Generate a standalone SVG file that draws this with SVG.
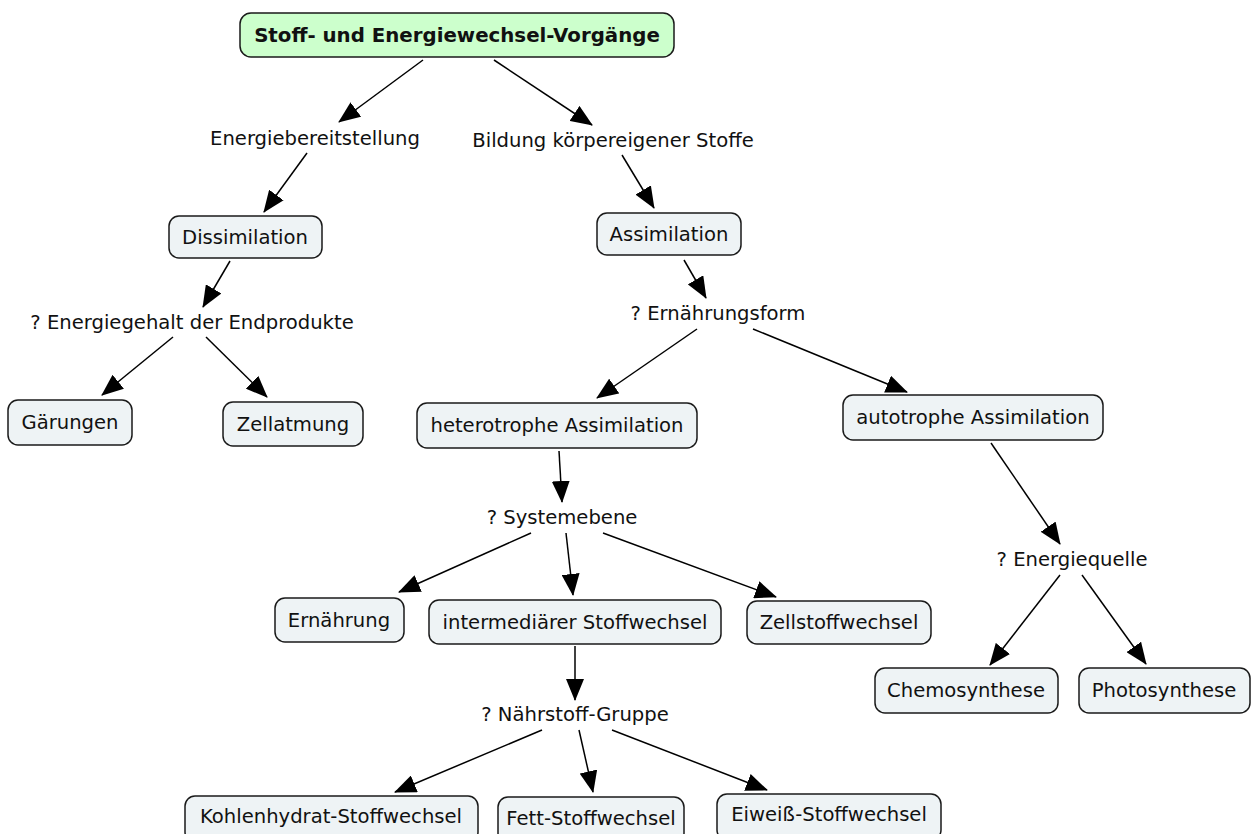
<svg xmlns="http://www.w3.org/2000/svg" width="1255" height="834" viewBox="0 0 1255 834">
<style>
.n rect{fill:#eef3f5;stroke:#1a1a1a;stroke-width:1.5}
.t rect{fill:#ccffcc;stroke:#1a1a1a;stroke-width:1.5}
text{font-family:"DejaVu Sans",Verdana,sans-serif;font-size:19.6px;fill:#111;text-anchor:middle}
.b{font-weight:bold;font-size:19.8px}
#connectors line{stroke:#000;stroke-width:1.5;marker-end:url(#ah)}
</style>
<defs>
<marker id="ah" viewBox="0 0 22 18" refX="21" refY="9" markerWidth="22" markerHeight="18" markerUnits="userSpaceOnUse" orient="auto">
<path d="M0,0 L22,9 L0,18 z" fill="#000"/>
</marker>
</defs>
<rect width="1255" height="834" fill="#fff"/>
<g id="connectors">
<line x1="423" y1="60" x2="339" y2="122"/>
<line x1="494" y1="60" x2="592" y2="125"/>
<line x1="307" y1="153" x2="264" y2="212"/>
<line x1="622" y1="155" x2="654" y2="208"/>
<line x1="230" y1="261" x2="203" y2="307"/>
<line x1="173" y1="337" x2="102" y2="395"/>
<line x1="206" y1="337" x2="267" y2="397"/>
<line x1="684" y1="260" x2="706" y2="298"/>
<line x1="697" y1="329" x2="597" y2="398"/>
<line x1="753" y1="329" x2="907" y2="392"/>
<line x1="559" y1="451" x2="562" y2="502"/>
<line x1="991" y1="443" x2="1060" y2="544"/>
<line x1="531" y1="533" x2="399" y2="592"/>
<line x1="566" y1="533" x2="573" y2="595"/>
<line x1="603" y1="533" x2="776" y2="597"/>
<line x1="1060" y1="575" x2="990" y2="665"/>
<line x1="1082" y1="575" x2="1146" y2="664"/>
<line x1="575" y1="646" x2="575" y2="700"/>
<line x1="542" y1="730" x2="395" y2="792"/>
<line x1="579" y1="730" x2="593" y2="792"/>
<line x1="612" y1="730" x2="767" y2="790"/>
</g>
<g id="root" class="t"><rect x="240" y="13" width="434" height="44" rx="11"/><text x="457" y="42" class="b">Stoff- und Energiewechsel-Vorgänge</text></g>
<g id="energiebereitstellung"><text x="315" y="145">Energiebereitstellung</text></g>
<g id="bildung"><text x="613" y="147">Bildung körpereigener Stoffe</text></g>
<g id="dissimilation" class="n"><rect x="169" y="216" width="153" height="42" rx="10"/><text x="245" y="244">Dissimilation</text></g>
<g id="energiegehalt"><text x="192" y="329">? Energiegehalt der Endprodukte</text></g>
<g id="gaerungen" class="n"><rect x="8" y="400" width="124" height="45" rx="10"/><text x="70" y="429">Gärungen</text></g>
<g id="zellatmung" class="n"><rect x="223" y="402" width="140" height="44" rx="10"/><text x="293" y="431">Zellatmung</text></g>
<g id="assimilation" class="n"><rect x="597" y="213" width="144" height="42" rx="10"/><text x="669" y="241">Assimilation</text></g>
<g id="ernaehrungsform"><text x="718" y="320">? Ernährungsform</text></g>
<g id="heterotroph" class="n"><rect x="417" y="403" width="280" height="45" rx="10"/><text x="557" y="432">heterotrophe Assimilation</text></g>
<g id="autotroph" class="n"><rect x="843" y="395" width="260" height="45" rx="10"/><text x="973" y="424">autotrophe Assimilation</text></g>
<g id="systemebene"><text x="562" y="524">? Systemebene</text></g>
<g id="ernaehrung" class="n"><rect x="275" y="598" width="129" height="44" rx="10"/><text x="339" y="627">Ernährung</text></g>
<g id="intermediaer" class="n"><rect x="429" y="600" width="292" height="44" rx="10"/><text x="575" y="629">intermediärer Stoffwechsel</text></g>
<g id="zellstoffwechsel" class="n"><rect x="747" y="601" width="184" height="43" rx="10"/><text x="839" y="629">Zellstoffwechsel</text></g>
<g id="energiequelle"><text x="1072" y="566">? Energiequelle</text></g>
<g id="chemosynthese" class="n"><rect x="875" y="668" width="183" height="45" rx="10"/><text x="966" y="697">Chemosynthese</text></g>
<g id="photosynthese" class="n"><rect x="1079" y="668" width="171" height="45" rx="10"/><text x="1164" y="697">Photosynthese</text></g>
<g id="naehrstoffgruppe"><text x="575" y="721">? Nährstoff-Gruppe</text></g>
<g id="kohlenhydrat" class="n"><rect x="185" y="796" width="293" height="46" rx="10"/><text x="331" y="823">Kohlenhydrat-Stoffwechsel</text></g>
<g id="fett" class="n"><rect x="498" y="797" width="186" height="46" rx="10"/><text x="591" y="825">Fett-Stoffwechsel</text></g>
<g id="eiweiss" class="n"><rect x="717" y="794" width="224" height="46" rx="10"/><text x="829" y="821">Eiweiß-Stoffwechsel</text></g>
</svg>
